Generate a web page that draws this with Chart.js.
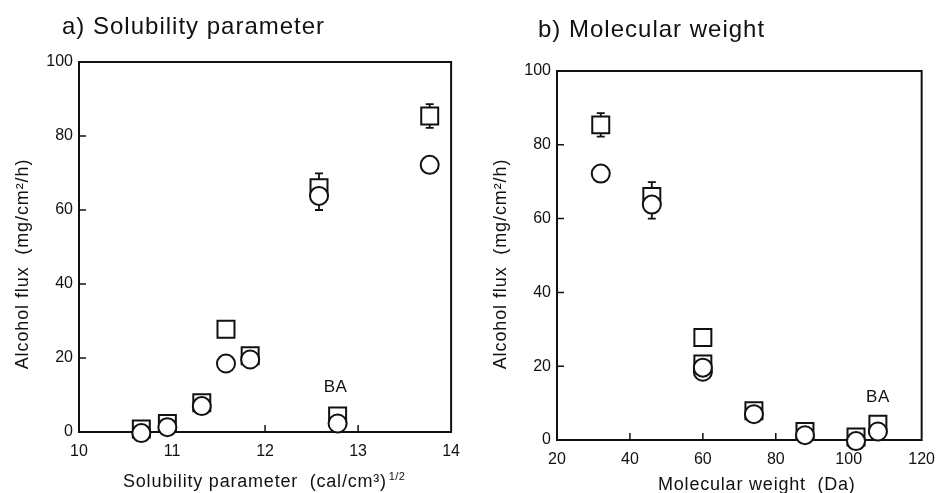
<!DOCTYPE html>
<html><head><meta charset="utf-8">
<script src="https://cdn.jsdelivr.net/npm/chart.js@4.4.0/dist/chart.umd.min.js"></script>
<style>
html,body{margin:0;padding:0;background:#fff;}
#wrap{position:relative;width:945px;height:493px;overflow:hidden;background:#fff;}
.box{position:absolute;top:0;height:493px;}
</style></head><body>
<div id="wrap">
<div class="box" style="left:0;width:470px"><canvas id="c1" width="470" height="493"></canvas></div>
<div class="box" style="left:470px;width:475px"><canvas id="c2" width="475" height="493"></canvas></div>
</div>
<script>
// ---- data ----
const compounds = ['Methanol','Ethanol','2-Propanol','1-Propanol','1-Butanol','1-Pentanol','1-Hexanol','BA'];
const solubilityParameter = [13.77, 12.58, 11.58, 11.84, 11.32, 10.95, 10.67, 12.78];
const molecularWeight = [32, 46, 60, 60, 74, 88, 102, 108];
const fluxSquare    = [85.4, 66.0, 27.8, 20.6, 7.9, 2.3, 0.8, 4.3];
const fluxSquareErr = [3.2, 3.9, 0, 0, 0, 0, 0, 0];
const fluxCircle    = [72.2, 63.8, 18.5, 19.6, 7.0, 1.3, -0.3, 2.3];
const fluxCircleErr = [0, 3.8, 0, 0, 0, 0, 0, 0];
const xTicksA = [10, 11, 12, 13, 14];
const xTicksB = [20, 40, 60, 80, 100, 120];
const yTicks = [0, 20, 40, 60, 80, 100];
const baLabel = 'BA';
const baIndex = 7;

const INK = '#111';
const FONT = '"Liberation Sans", Arial, Helvetica, sans-serif';

function drawText(ctx, s, x, y, size, spacing, align) {
  ctx.save();
  ctx.font = size + 'px ' + FONT;
  ctx.fillStyle = INK;
  try { ctx.letterSpacing = spacing + 'px'; } catch (e) {}
  ctx.textAlign = align || 'left';
  ctx.textBaseline = 'alphabetic';
  ctx.fillText(s, x, y);
  const w = ctx.measureText(s).width;
  ctx.restore();
  return w;
}

function makeChart(id, xs, xTicks, xMin, xMax, geo, texts) {
  const pts = (ys) => xs.map((x, i) => ({x: x, y: ys[i]}));
  const decor = {
    id: 'decor',
    beforeDatasetsDraw(chart) {
      const ctx = chart.ctx, a = chart.chartArea;
      const sx = chart.scales.x, sy = chart.scales.y;
      ctx.save();
      ctx.strokeStyle = INK;
      ctx.lineWidth = 2;
      ctx.strokeRect(a.left, a.top, a.right - a.left, a.bottom - a.top);
      ctx.lineWidth = 1.5;
      ctx.beginPath();
      xTicks.forEach(v => {
        if (v === xMin || v === xMax) return;
        const px = sx.getPixelForValue(v);
        ctx.moveTo(px, a.bottom); ctx.lineTo(px, a.bottom - 7);
      });
      yTicks.forEach(v => {
        if (v === 0 || v === 100) return;
        const py = sy.getPixelForValue(v);
        ctx.moveTo(a.left, py); ctx.lineTo(a.left + 7, py);
      });
      ctx.stroke();
      // error bars
      ctx.lineWidth = 1.8;
      const bars = (ys, errs) => ys.forEach((yv, i) => {
        if (!errs[i]) return;
        const px = sx.getPixelForValue(xs[i]);
        const hi = sy.getPixelForValue(yv + errs[i]);
        const lo = sy.getPixelForValue(yv - errs[i]);
        ctx.beginPath();
        ctx.moveTo(px, hi); ctx.lineTo(px, lo);
        ctx.moveTo(px - 4, hi); ctx.lineTo(px + 4, hi);
        ctx.moveTo(px - 4, lo); ctx.lineTo(px + 4, lo);
        ctx.stroke();
      });
      bars(fluxSquare, fluxSquareErr);
      bars(fluxCircle, fluxCircleErr);
      ctx.restore();
    },
    afterDraw(chart) {
      const ctx = chart.ctx;
      const sx = chart.scales.x, sy = chart.scales.y;
      drawText(ctx, texts.title, texts.titleX, texts.titleY, 24, 1, 'left');
      const w = drawText(ctx, texts.xTitle, texts.xTitleX, texts.xTitleY, 18, 0.8, 'left');
      if (texts.xSup) drawText(ctx, texts.xSup, texts.xTitleX + w + 2, texts.xTitleY - 7, 11, 0.3, 'left');
      ctx.save();
      ctx.translate(texts.yTitleX, texts.yTitleY);
      ctx.rotate(-Math.PI / 2);
      drawText(ctx, texts.yTitle, 0, 0, 18, 0.9, 'center');
      ctx.restore();
      // BA annotation above the BA marker
      const bx = sx.getPixelForValue(xs[baIndex]);
      const by = sy.getPixelForValue(fluxSquare[baIndex]) - texts.baDy;
      drawText(ctx, baLabel, bx + texts.baDx, by, 17, 0.5, 'center');
    }
  };
  return new Chart(document.getElementById(id), {
    type: 'scatter',
    data: {
      datasets: [
        { label: 'circle', data: pts(fluxCircle), pointStyle: 'circle', pointRadius: 9,
          borderColor: INK, backgroundColor: '#fff', pointBorderWidth: 2, borderWidth: 2, order: 1, clip: false },
        { label: 'square', data: pts(fluxSquare), pointStyle: 'rect', pointRadius: 12,
          borderColor: INK, backgroundColor: '#fff', pointBorderWidth: 2, borderWidth: 2, order: 2, clip: false }
      ]
    },
    options: {
      responsive: false, animation: false, events: [],
      layout: { padding: { left: 0, right: geo.right, top: geo.top, bottom: 0 } },
      plugins: { legend: { display: false }, title: { display: false }, tooltip: { enabled: false } },
      scales: {
        x: {
          type: 'linear', min: xMin, max: xMax,
          afterBuildTicks: s => { s.ticks = xTicks.map(v => ({value: v})); },
          afterFit: s => { s.height = geo.xh; },
          grid: { display: false, drawTicks: false },
          border: { display: false },
          ticks: { color: INK, font: { family: FONT, size: 16 }, padding: 10, maxRotation: 0 }
        },
        y: {
          type: 'linear', min: 0, max: 100,
          afterBuildTicks: s => { s.ticks = yTicks.map(v => ({value: v})); },
          afterFit: s => { s.width = geo.yw; },
          grid: { display: false, drawTicks: false },
          border: { display: false },
          ticks: { color: INK, font: { family: FONT, size: 16 }, padding: 6 }
        }
      }
    },
    plugins: [decor]
  });
}

makeChart('c1', solubilityParameter, xTicksA, 10, 14,
  { right: 18, top: 62, xh: 61, yw: 79 },
  { title: 'a) Solubility parameter', titleX: 62, titleY: 34,
    xTitle: 'Solubility parameter  (cal/cm³)', xSup: '1/2', xTitleX: 123, xTitleY: 487,
    yTitle: 'Alcohol flux  (mg/cm²/h)', yTitleX: 28, yTitleY: 264, baDx: -2, baDy: 24 });

makeChart('c2', molecularWeight, xTicksB, 20, 120,
  { right: 13, top: 71, xh: 53, yw: 87 },
  { title: 'b) Molecular weight', titleX: 68, titleY: 37,
    xTitle: 'Molecular weight  (Da)', xSup: '', xTitleX: 188, xTitleY: 490,
    yTitle: 'Alcohol flux  (mg/cm²/h)', yTitleX: 36, yTitleY: 264, baDx: 0, baDy: 22 });
</script>
</body></html>
